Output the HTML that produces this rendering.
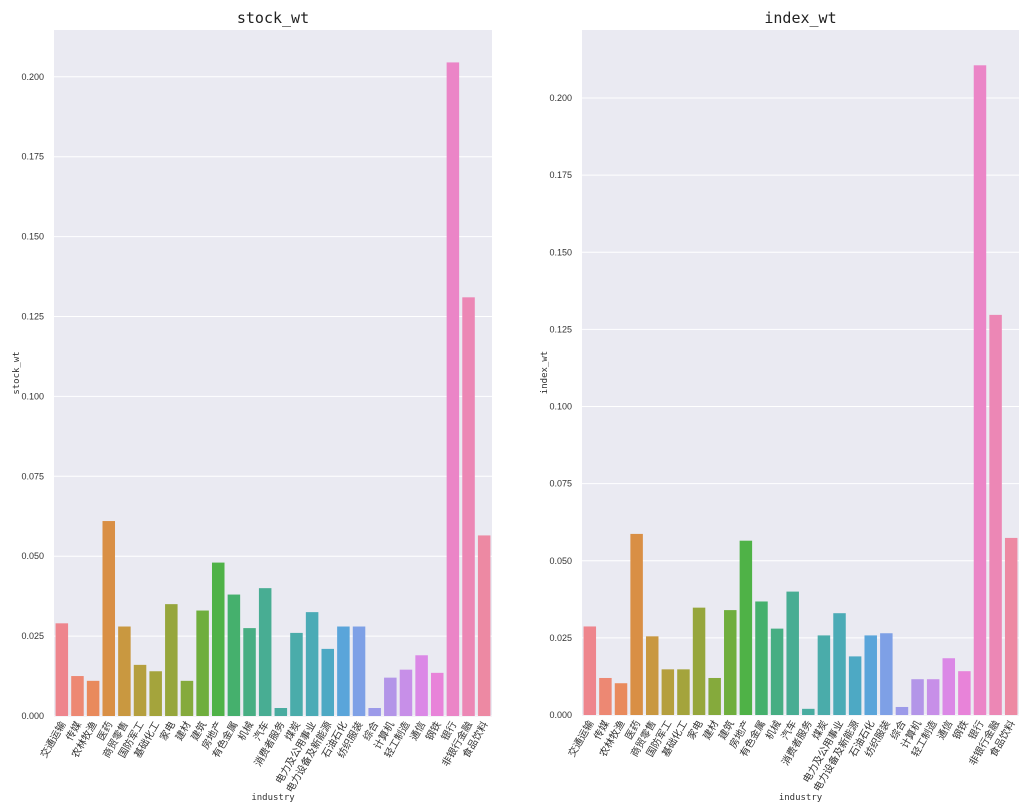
<!DOCTYPE html>
<html><head><meta charset="utf-8">
<style>
body{margin:0;background:#fff;}
svg{display:block;font-family:"Liberation Sans","Noto Sans CJK SC",sans-serif;}
</style></head>
<body>
<svg id="chart" width="1029" height="807" viewBox="0 0 1029 807" xmlns="http://www.w3.org/2000/svg"></svg>
<script>
const categories = ["交通运输","传媒","农林牧渔","医药","商贸零售","国防军工","基础化工","家电","建材","建筑","房地产","有色金属","机械","汽车","消费者服务","煤炭","电力及公用事业","电力设备及新能源","石油石化","纺织服装","综合","计算机","轻工制造","通信","钢铁","银行","非银行金融","食品饮料"];
const stockWt = [0.029,0.0125,0.011,0.061,0.028,0.016,0.014,0.035,0.011,0.033,0.048,0.038,0.0275,0.040,0.0025,0.026,0.0325,0.021,0.028,0.028,0.0025,0.012,0.0145,0.019,0.0135,0.2045,0.131,0.0565];
const indexWt = [0.0287,0.012,0.0103,0.0587,0.0255,0.0148,0.0148,0.0348,0.012,0.034,0.0565,0.0368,0.028,0.040,0.002,0.0258,0.033,0.019,0.0258,0.0265,0.0026,0.0116,0.0116,0.0184,0.0142,0.2106,0.1297,0.0574];
const tickValues = [0,0.025,0.05,0.075,0.1,0.125,0.15,0.175,0.2];
const tickLabels = ["0.000","0.025","0.050","0.075","0.100","0.125","0.150","0.175","0.200"];

const palette=["#ee858d","#ed8873","#e98a5c","#d98f45","#c99840","#b59f3e","#a4a43c","#96a63c","#85aa3c","#6fae3d","#4fb247","#45b06d","#47ae83","#48ad93","#49aca0","#4aacaa","#4babb6","#4da9c4","#5aa5da","#7ea0e6","#9c9ae9","#b395e8","#c78fe8","#db88e6","#e883d9","#eb85c7","#ec87b5","#ed89a3"];
const NS="http://www.w3.org/2000/svg";
const svg=document.getElementById('chart');
function mk(tag,attrs,parent){const e=document.createElementNS(NS,tag);for(const k in attrs)e.setAttribute(k,attrs[k]);(parent||svg).appendChild(e);return e;}

function panel(cfg){
  const g=mk('g',{});
  
  
  const x0=cfg.left,x1=cfg.right,top=30,y0=cfg.zero;
  const yScale=v=>y0-v*cfg.ppu;
  const step=(x1-x0)/categories.length;
  const xScale=i=>x0+step*(i+0.5);
  const bg=mk('rect',{x:x0,y:top,width:x1-x0,height:y0+1-top,fill:'#eaeaf2'},g);
  
  
  tickValues.forEach((v,i)=>{
    const y=yScale(v);
    if(y<top)return;
    const gl=mk('line',{x1:x0,x2:x1,y1:y,y2:y,stroke:'#fff','stroke-width':1},g);
    
    
    const t=mk('text',{x:x0-10,y:y+3,'text-anchor':'end','font-size':9,fill:'#333'},g);
    
    
    t.textContent=tickLabels[i];
  });
  cfg.values.forEach((v,i)=>{
    const cx=xScale(i),bw=step*0.8;
    const r=mk('rect',{x:cx-bw/2,y:yScale(v),width:bw,height:v*cfg.ppu,fill:palette[i%palette.length]},g);
    
    
    const t=mk('text',{x:cx+4,y:y0+8,'text-anchor':'end','font-size':10,fill:'#333',transform:`rotate(-60 ${cx+4} ${y0+8})`},g);
    
    
    t.textContent=categories[i];
  });
  const tt=mk('text',{x:(x0+x1)/2,y:23,'text-anchor':'middle','font-size':15,'font-family':'"DejaVu Sans Mono",monospace',fill:'#222'},g);
  
  
  tt.textContent=cfg.name;
  const xl=mk('text',{x:(x0+x1)/2,y:800,'text-anchor':'middle','font-size':9,'font-family':'"DejaVu Sans Mono",monospace',fill:'#333'},g);
  
  
  xl.textContent='industry';
  const ly=(top+y0)/2,lx=x0-35;
  const yl=mk('text',{x:lx,y:ly,'text-anchor':'middle','font-size':9,'font-family':'"DejaVu Sans Mono",monospace',fill:'#333',transform:`rotate(-90 ${lx} ${ly})`},g);
  
  
  yl.textContent=cfg.name;
}
panel({name:'stock_wt',values:stockWt,left:54,right:492,zero:716,ppu:3196});
panel({name:'index_wt',values:indexWt,left:582,right:1019,zero:715,ppu:3085});
</script>
</body></html>
